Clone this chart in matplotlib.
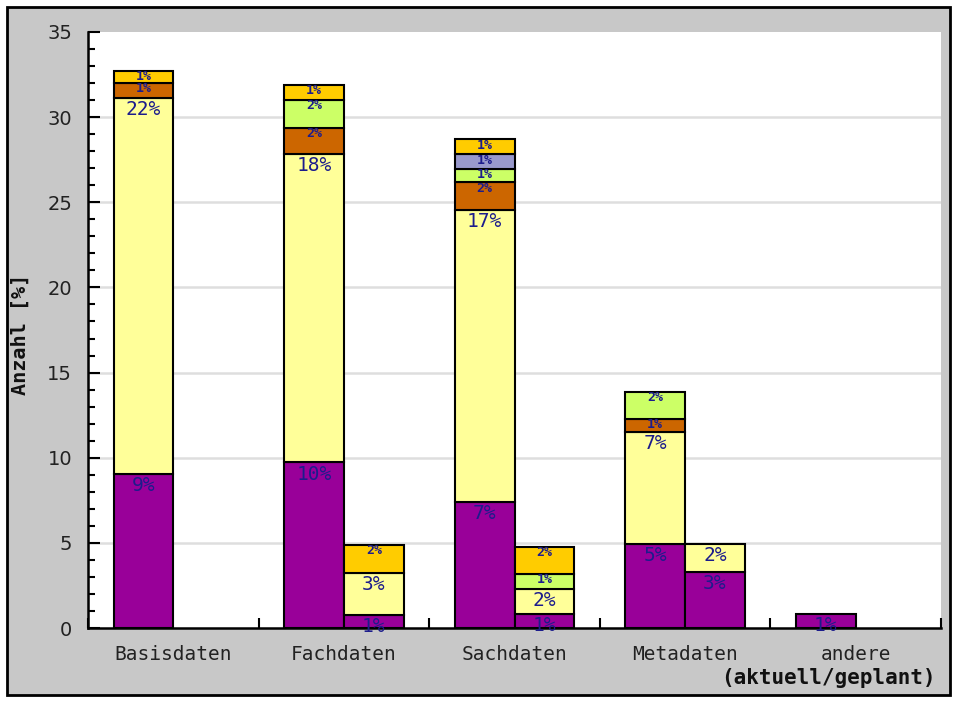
import matplotlib
matplotlib.use("Agg")
import matplotlib.pyplot as plt
from matplotlib.patches import Rectangle
from matplotlib.ticker import MultipleLocator, FixedLocator, NullFormatter

# ---------------- data ----------------
categories = ["Basisdaten", "Fachdaten", "Sachdaten", "Metadaten", "andere"]
series_colors = ["#990099", "#FFFF99", "#CC6600", "#CCFF66", "#9999CC", "#FFCC00"]
large_label_series = [True, True, False, False, False, False]

# aktuell (current) – stacked segments per series
akt_purple   = [9.02, 9.72, 7.40, 4.91, 0.82]
akt_yellow   = [22.12, 18.11, 17.15, 6.60, 0.0]
akt_orange   = [0.87, 1.55, 1.62, 0.76, 0.0]
akt_green    = [0.0, 1.62, 0.78, 1.59, 0.0]
akt_lavender = [0.0, 0.0, 0.87, 0.0, 0.0]
akt_gold     = [0.69, 0.88, 0.88, 0.0, 0.0]

akt_lbl_purple   = ["9%", "10%", "7%", "5%", "1%"]
akt_lbl_yellow   = ["22%", "18%", "17%", "7%", ""]
akt_lbl_orange   = ["1%", "2%", "2%", "1%", ""]
akt_lbl_green    = ["", "2%", "1%", "2%", ""]
akt_lbl_lavender = ["", "", "1%", "", ""]
akt_lbl_gold     = ["1%", "1%", "1%", "", ""]

# geplant (planned)
gep_purple   = [0.0, 0.76, 0.82, 3.29, 0.0]
gep_yellow   = [0.0, 2.47, 1.47, 1.62, 0.0]
gep_orange   = [0.0, 0.0, 0.0, 0.0, 0.0]
gep_green    = [0.0, 0.0, 0.88, 0.0, 0.0]
gep_lavender = [0.0, 0.0, 0.0, 0.0, 0.0]
gep_gold     = [0.0, 1.64, 1.60, 0.0, 0.0]

gep_lbl_purple   = ["", "1%", "1%", "3%", ""]
gep_lbl_yellow   = ["", "3%", "2%", "2%", ""]
gep_lbl_orange   = ["", "", "", "", ""]
gep_lbl_green    = ["", "", "1%", "", ""]
gep_lbl_lavender = ["", "", "", "", ""]
gep_lbl_gold     = ["", "2%", "2%", "", ""]

y_ticks = [0, 5, 10, 15, 20, 25, 30, 35]
y_label = "Anzahl [%]"
x_note = "(aktuell/geplant)"

akt_series = [akt_purple, akt_yellow, akt_orange, akt_green, akt_lavender, akt_gold]
akt_labels = [akt_lbl_purple, akt_lbl_yellow, akt_lbl_orange, akt_lbl_green, akt_lbl_lavender, akt_lbl_gold]
gep_series = [gep_purple, gep_yellow, gep_orange, gep_green, gep_lavender, gep_gold]
gep_labels = [gep_lbl_purple, gep_lbl_yellow, gep_lbl_orange, gep_lbl_green, gep_lbl_lavender, gep_lbl_gold]

# ---------------- figure ----------------
W, H = 957, 702
fig = plt.figure(figsize=(W / 100, H / 100), dpi=100, facecolor="white")
frame = Rectangle((7 / W, 7 / H), (950 - 7) / W, (695 - 7) / H, transform=fig.transFigure,
                  facecolor="#c8c8c8", edgecolor="black", linewidth=2, zorder=-10)
fig.patches.append(frame)

ax = fig.add_axes([88 / W, 1 - 628 / H, (941 - 88) / W, (628 - 32) / H])
ax.set_facecolor("white")
ax.set_xlim(0, len(categories))
ax.set_ylim(0, 35)

label_color = "#1c1c8c"
bar_w = 0.35


def draw_stack(offset, series_list, labels_list):
    for ci in range(len(categories)):
        bottom = 0.0
        x = ci + offset
        for si, (vals, lbls) in enumerate(zip(series_list, labels_list)):
            v = vals[ci]
            if v <= 0:
                continue
            ax.bar(x, v, bottom=bottom, width=bar_w, align="edge",
                   color=series_colors[si], edgecolor="black", linewidth=1.5, zorder=3)
            top = bottom + v
            if lbls[ci]:
                if large_label_series[si]:
                    ax.annotate(lbls[ci], (x + bar_w / 2, top), xytext=(0, -1.5),
                                textcoords="offset points", ha="center", va="top",
                                fontsize=14, family="DejaVu Sans Mono",
                                color=label_color, zorder=8, annotation_clip=False)
                else:
                    ax.annotate(lbls[ci], (x + bar_w / 2, top), xytext=(0, 0.5),
                                textcoords="offset points", ha="center", va="top",
                                fontsize=9.5, fontweight="bold", family="DejaVu Sans Mono",
                                color=label_color, zorder=8, annotation_clip=False)
            bottom = top


draw_stack(0.15, akt_series, akt_labels)
draw_stack(0.50, gep_series, gep_labels)

# axes styling
for s in ["top", "right"]:
    ax.spines[s].set_visible(False)
for s in ["left", "bottom"]:
    ax.spines[s].set_linewidth(1.8)
    ax.spines[s].set_color("black")
    ax.spines[s].set_zorder(6)

ax.yaxis.set_major_locator(FixedLocator(y_ticks))
ax.yaxis.set_minor_locator(MultipleLocator(1))
ax.tick_params(axis="y", which="major", direction="in", length=8.5, width=1.5,
               labelsize=14, pad=11.5, labelcolor="#222222")
ax.tick_params(axis="y", which="minor", direction="in", length=5, width=1.5)
for lbl in ax.get_yticklabels():
    lbl.set_family("DejaVu Sans")

ax.xaxis.set_major_locator(FixedLocator(list(range(len(categories) + 1))))
ax.xaxis.set_major_formatter(NullFormatter())
ax.xaxis.set_minor_locator(FixedLocator([i + 0.5 for i in range(len(categories))]))
ax.set_xticklabels(categories, minor=True, family="DejaVu Sans Mono", fontsize=14, color="#222222")
ax.tick_params(axis="x", which="major", direction="in", length=7, width=1.5)
ax.tick_params(axis="x", which="minor", length=0, pad=12)

ax.set_axisbelow(True)
for yv in y_ticks[1:-1]:
    ax.axhline(yv, color="#dedede", linewidth=1.8, zorder=0.5)

fig.text(20 / W, 1 - 334 / H, y_label, rotation=90, ha="center", va="center",
         family="DejaVu Sans Mono", fontweight="bold", fontsize=14.5, color="#111111")
fig.text(936 / W, 1 - 678 / H, x_note, ha="right", va="center",
         family="DejaVu Sans Mono", fontweight="bold", fontsize=15, color="#111111")

fig.savefig("out.png", dpi=100, facecolor="white")
